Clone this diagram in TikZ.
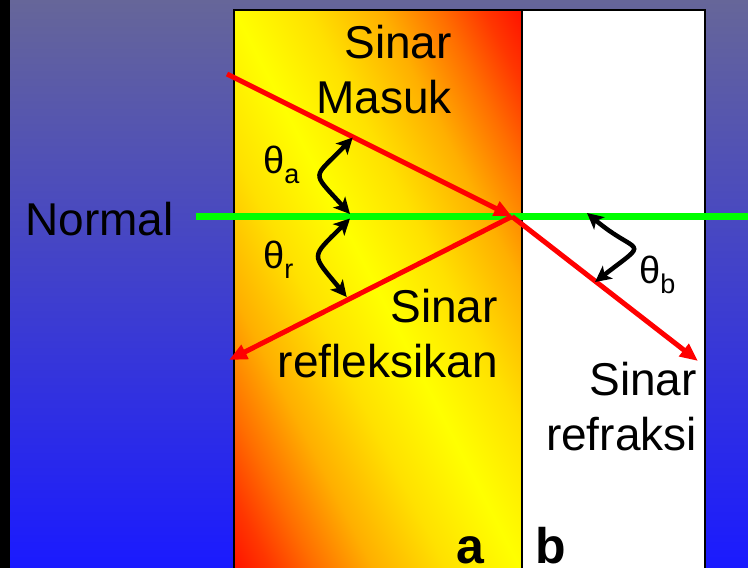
\documentclass[tikz,border=0pt]{standalone}
\usepackage{fontspec}
\setmainfont{Liberation Sans}
\usetikzlibrary{arrows.meta}
\definecolor{bgtop}{RGB}{102,102,153}
\definecolor{bgbot}{RGB}{26,26,255}
\definecolor{rayred}{RGB}{255,0,0}
\definecolor{normgreen}{RGB}{0,255,0}
\definecolor{hotred}{RGB}{255,12,0}
\definecolor{redorange}{RGB}{255,55,0}
\definecolor{hotorange}{RGB}{255,110,0}
\definecolor{warmyellow}{RGB}{255,175,0}
\definecolor{paleyellow}{RGB}{255,225,0}
\pgfdeclarehorizontalshading{slabshade}{100bp}{color(0bp)=(hotred); color(25bp)=(hotred);
  color(28.75bp)=(redorange); color(32.5bp)=(hotorange); color(37.5bp)=(warmyellow);
  color(43.75bp)=(paleyellow); color(50bp)=(yellow); color(56.25bp)=(paleyellow);
  color(62.5bp)=(warmyellow); color(67.5bp)=(hotorange); color(71.25bp)=(redorange);
  color(75bp)=(hotred); color(100bp)=(hotred)}
\newcommand\thetasub[1]{θ\raisebox{-10pt}{\fontsize{27}{27}\selectfont #1}}
\begin{document}
\begin{tikzpicture}[x=1pt,y=-1pt,
  lbl/.style={inner sep=0pt,font=\fontsize{46}{55}\selectfont,align=right},
  anglbl/.style={inner sep=0pt,font=\fontsize{38}{40}\selectfont,anchor=base west},
  slabno/.style={inner sep=0pt,font=\fontsize{50}{50}\selectfont\bfseries,anchor=base west},
  slabedge/.style={draw=black,line width=2.5pt},
  ray/.style={draw=rayred,line width=5pt,-{Triangle[length=18pt,width=15pt]}},
  angarr/.style={draw=black,line width=4.5pt,
    {Stealth[length=16pt,width=16pt,inset=4pt]}-{Stealth[length=16pt,width=16pt,inset=4pt]}}]
\useasboundingbox (0,0) rectangle (748,568);
\shade[top color=bgtop,bottom color=bgbot] (0,0) rectangle (748,568);
\fill[black] (0,0) rectangle (10,568);
\begin{scope}
  \clip (234,10) rectangle (522,572);
  \begin{scope}[transform canvas={shift={(378,291)},xscale=288,yscale=562,rotate=45}]
    \shade[shading=slabshade] (-0.72,-0.72) rectangle (0.72,0.72);
  \end{scope}
\end{scope}
\fill[white] (522,10) rectangle (705,572);
\draw[slabedge] (234,572) -- (234,10) -- (522,10) -- (522,572);
\draw[slabedge] (522,10) -- (705,10) -- (705,572);
\node[lbl,anchor=base east] (normal) at (174,235) {Normal};
\coordinate (normstart) at (196,216.5);
\coordinate (normend) at (748,216.5);
\draw[draw=normgreen,line width=7pt] (normstart) -- (normend);
\coordinate (hit) at (512,216.5);
\coordinate (inA) at (227,74);
\coordinate (outR) at (229,360);
\coordinate (outB) at (698,361);
\draw[ray] (inA) -- (hit);
\draw[ray] (hit) -- (outR);
\draw[ray] (hit) -- (outB);
\coordinate (aTop) at (352.7,137.5);
\coordinate (aBot) at (350,214);
\coordinate (rTop) at (350,218.5);
\coordinate (rBot) at (346.7,297);
\coordinate (bTop) at (587,213);
\coordinate (bBot) at (595,282);
\draw[angarr] (aTop) .. controls (312.7,179.5) and (310,170) .. (aBot);
\draw[angarr] (rTop) .. controls (310,258.5) and (310.7,253) .. (rBot);
\draw[angarr] (bTop) .. controls (638,256) and (652,238) .. (bBot);
\node[anglbl] (thA) at (263,173) {\thetasub{a}};
\node[anglbl] (thR) at (263,268) {\thetasub{r}};
\node[anglbl] (thB) at (639,283) {\thetasub{b}};
\node[lbl,anchor=north east] (masuk) at (452,25) {Sinar\\Masuk};
\node[lbl,anchor=north east] (refl) at (498,289) {Sinar\\refleksikan};
\node[lbl,anchor=north east] (refr) at (697,362) {Sinar\\refraksi};
\node[slabno] (slabA) at (456,563) {a};
\node[slabno] (slabB) at (535,563) {b};
\end{tikzpicture}
\end{document}
